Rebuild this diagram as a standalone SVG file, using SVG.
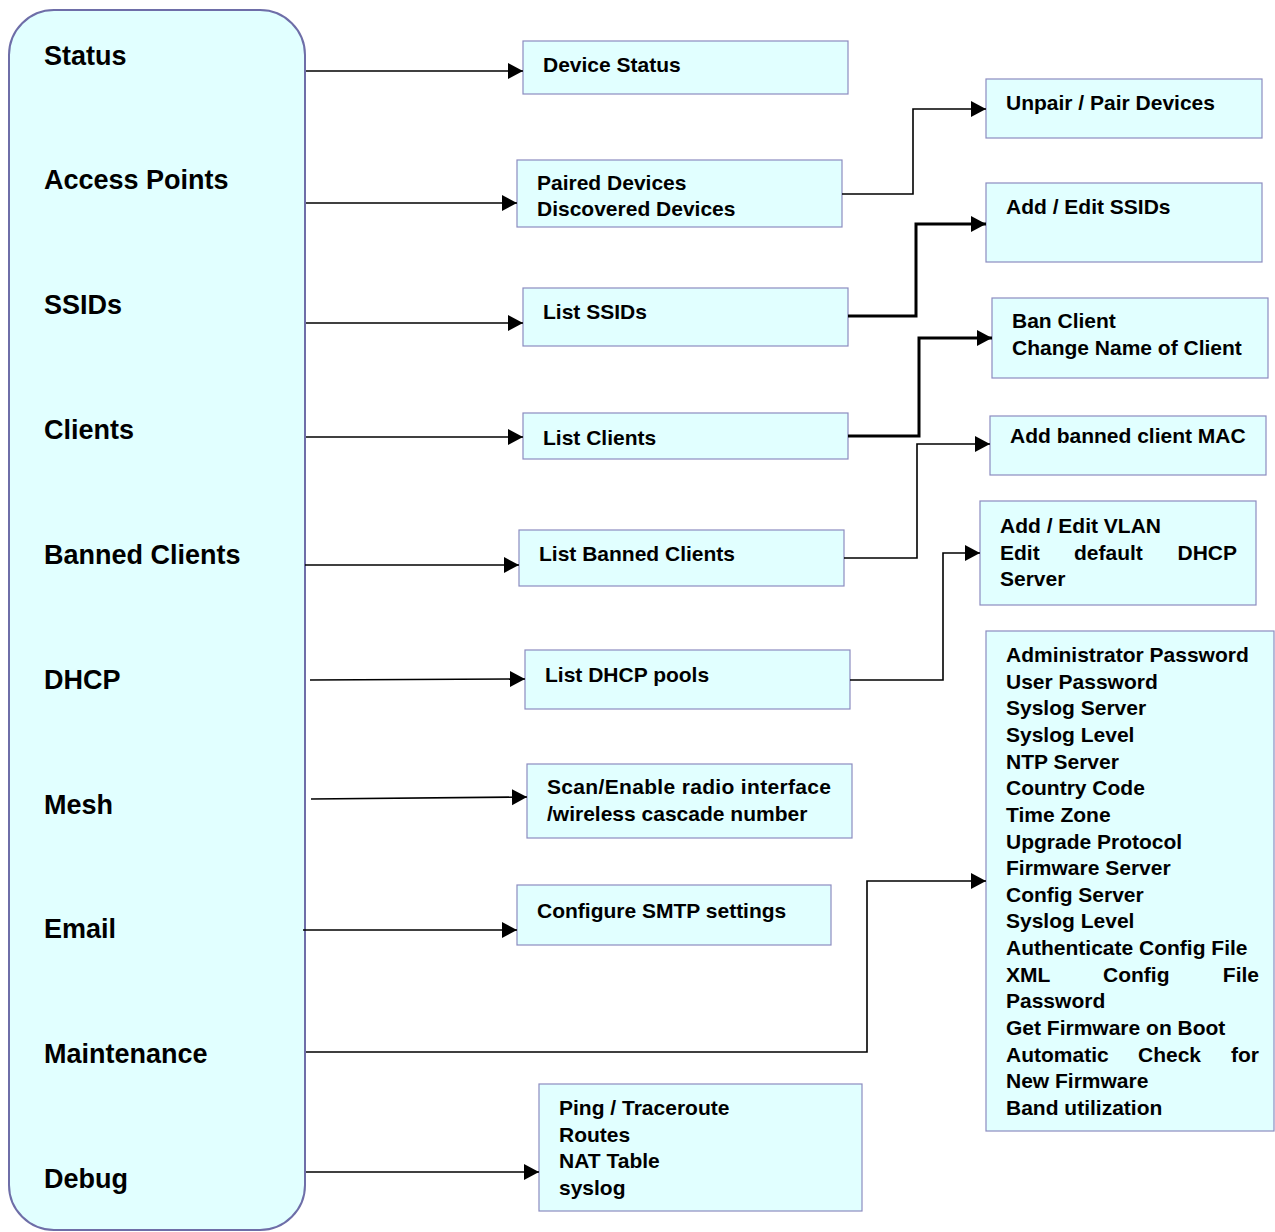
<svg xmlns="http://www.w3.org/2000/svg" width="1275" height="1232" viewBox="0 0 1275 1232">
<defs>
<style>
.panel{fill:#e1ffff;stroke:#6e6ea8;stroke-width:2}
.box{fill:#e1ffff;stroke:#8c8cc0;stroke-width:1.2}
.lbl{font-family:"Liberation Sans",Arial,sans-serif;font-weight:bold;font-size:27px;fill:#000}
.t{font-family:"Liberation Sans",Arial,sans-serif;font-weight:bold;font-size:21px;fill:#000}
.c{fill:none;stroke:#000;stroke-width:1.6}
.ck{fill:none;stroke:#000;stroke-width:3}
</style>
<marker id="ah" markerUnits="userSpaceOnUse" markerWidth="16" markerHeight="18" refX="15" refY="8" orient="auto">
<path d="M0,0 L15,8 L0,16 Z" fill="#000"/>
</marker>
</defs>
<rect width="1275" height="1232" fill="#fff"/>
<g id="menu">
<rect class="panel" x="9" y="10" width="296" height="1220" rx="45" ry="45"/>
<text class="lbl" x="44" y="65">Status</text>
<text class="lbl" x="44" y="189">Access Points</text>
<text class="lbl" x="44" y="314">SSIDs</text>
<text class="lbl" x="44" y="439">Clients</text>
<text class="lbl" x="44" y="564">Banned Clients</text>
<text class="lbl" x="44" y="689">DHCP</text>
<text class="lbl" x="44" y="814">Mesh</text>
<text class="lbl" x="44" y="938">Email</text>
<text class="lbl" x="44" y="1063">Maintenance</text>
<text class="lbl" x="44" y="1188">Debug</text>
</g>
<g id="device-status">
<rect class="box" x="523" y="41" width="325" height="53"/>
<text class="t" x="543" y="72">Device Status</text>
</g>
<g id="paired-devices">
<rect class="box" x="517" y="160" width="325" height="67"/>
<text class="t" x="537" y="190">Paired Devices</text>
<text class="t" x="537" y="216">Discovered Devices</text>
</g>
<g id="unpair-pair">
<rect class="box" x="986" y="79" width="276" height="59"/>
<text class="t" x="1006" y="110">Unpair / Pair Devices</text>
</g>
<g id="add-edit-ssids">
<rect class="box" x="986" y="183" width="276" height="79"/>
<text class="t" x="1006" y="214">Add / Edit SSIDs</text>
</g>
<g id="list-ssids">
<rect class="box" x="523" y="288" width="325" height="58"/>
<text class="t" x="543" y="319">List SSIDs</text>
</g>
<g id="ban-client">
<rect class="box" x="992" y="298" width="276" height="80"/>
<text class="t" x="1012" y="328">Ban Client</text>
<text class="t" x="1012" y="355">Change Name of Client</text>
</g>
<g id="list-clients">
<rect class="box" x="523" y="413" width="325" height="46"/>
<text class="t" x="543" y="445">List Clients</text>
</g>
<g id="add-banned-mac">
<rect class="box" x="990" y="416" width="276" height="59"/>
<text class="t" x="1010" y="443">Add banned client MAC</text>
</g>
<g id="list-banned-clients">
<rect class="box" x="519" y="530" width="325" height="56"/>
<text class="t" x="539" y="561">List Banned Clients</text>
</g>
<g id="add-edit-vlan">
<rect class="box" x="980" y="501" width="276" height="104"/>
<text class="t" x="1000" y="533">Add / Edit VLAN</text>
<text class="t" x="1000" y="560">Edit</text>
<text class="t" x="1074" y="560">default</text>
<text class="t" x="1237" y="560" text-anchor="end">DHCP</text>
<text class="t" x="1000" y="586">Server</text>
</g>
<g id="list-dhcp-pools">
<rect class="box" x="525" y="650" width="325" height="59"/>
<text class="t" x="545" y="682">List DHCP pools</text>
</g>
<g id="maintenance-settings">
<rect class="box" x="986" y="631" width="288" height="500"/>
<text class="t" x="1006" y="662">Administrator Password</text>
<text class="t" x="1006" y="689">User Password</text>
<text class="t" x="1006" y="715">Syslog Server</text>
<text class="t" x="1006" y="742">Syslog Level</text>
<text class="t" x="1006" y="769">NTP Server</text>
<text class="t" x="1006" y="795">Country Code</text>
<text class="t" x="1006" y="822">Time Zone</text>
<text class="t" x="1006" y="849">Upgrade Protocol</text>
<text class="t" x="1006" y="875">Firmware Server</text>
<text class="t" x="1006" y="902">Config Server</text>
<text class="t" x="1006" y="928">Syslog Level</text>
<text class="t" x="1006" y="955">Authenticate Config File</text>
<text class="t" x="1006" y="982">XML</text>
<text class="t" x="1103" y="982">Config</text>
<text class="t" x="1259" y="982" text-anchor="end">File</text>
<text class="t" x="1006" y="1008">Password</text>
<text class="t" x="1006" y="1035">Get Firmware on Boot</text>
<text class="t" x="1006" y="1062">Automatic</text>
<text class="t" x="1138" y="1062">Check</text>
<text class="t" x="1259" y="1062" text-anchor="end">for</text>
<text class="t" x="1006" y="1088">New Firmware</text>
<text class="t" x="1006" y="1115">Band utilization</text>
</g>
<g id="mesh-scan">
<rect class="box" x="527" y="764" width="325" height="74"/>
<text class="t" x="547" y="794" textLength="284" lengthAdjust="spacing">Scan/Enable radio interface</text>
<text class="t" x="547" y="821">/wireless cascade number</text>
</g>
<g id="smtp">
<rect class="box" x="517" y="885" width="314" height="60"/>
<text class="t" x="537" y="918">Configure SMTP settings</text>
</g>
<g id="debug-tools">
<rect class="box" x="539" y="1084" width="323" height="127"/>
<text class="t" x="559" y="1115">Ping / Traceroute</text>
<text class="t" x="559" y="1142">Routes</text>
<text class="t" x="559" y="1168">NAT Table</text>
<text class="t" x="559" y="1195">syslog</text>
</g>
<g id="connectors">
<path class="c" d="M306,71 H523" marker-end="url(#ah)"/>
<path class="c" d="M306,203 H517" marker-end="url(#ah)"/>
<path class="c" d="M306,323 H523" marker-end="url(#ah)"/>
<path class="c" d="M306,437 H523" marker-end="url(#ah)"/>
<path class="c" d="M305,565 H519" marker-end="url(#ah)"/>
<path class="c" d="M310,680 L525,679" marker-end="url(#ah)"/>
<path class="c" d="M311,799 L527,797" marker-end="url(#ah)"/>
<path class="c" d="M303,930 H517" marker-end="url(#ah)"/>
<path class="c" d="M306,1052 H867 V881 H986" marker-end="url(#ah)"/>
<path class="c" d="M306,1172 H539" marker-end="url(#ah)"/>
<path class="c" d="M842,194 H913 V109 H986" marker-end="url(#ah)"/>
<path class="ck" d="M848,316 H916 V224 H986" marker-end="url(#ah)"/>
<path class="ck" d="M848,436 H919 V338 H992" marker-end="url(#ah)"/>
<path class="c" d="M844,558 H917 V444 H990" marker-end="url(#ah)"/>
<path class="c" d="M850,680 H943 V553 H980" marker-end="url(#ah)"/>
</g>
</svg>
